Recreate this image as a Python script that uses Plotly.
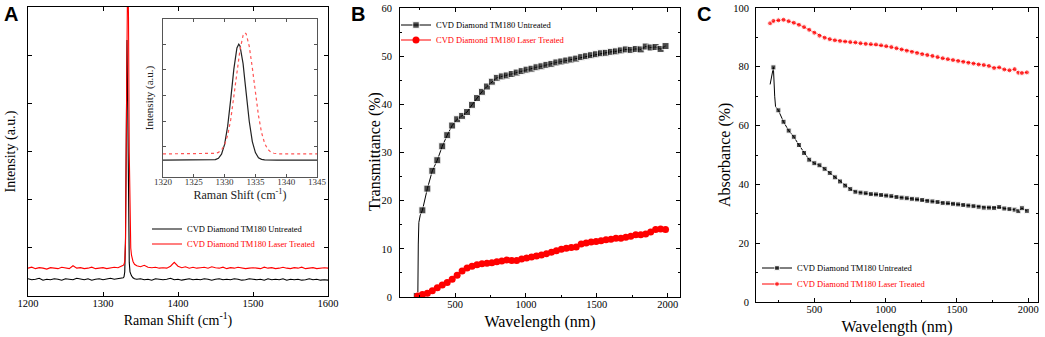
import plotly.graph_objects as go

W, H = 1045, 337
SERIF = "Liberation Serif, Times New Roman, serif"
SANS = "Liberation Sans, Arial, sans-serif"
RED = "#ff0000"
BLK = "#000000"

# ---------------- Panel A: Raman spectra ----------------
a_x_left = list(range(1200, 1321, 5))
a_x_peak = [1322, 1325, 1327, 1328, 1329, 1330, 1331, 1332, 1333, 1334, 1335, 1336, 1337, 1338, 1340, 1342]
a_x_right = list(range(1345, 1601, 5))
raman_x = a_x_left + a_x_peak + a_x_right

untreated_left = [0.36, 0.34, 0.35, 0.37, 0.33, 0.35, 0.34, 0.36, 0.35, 0.33, 0.36, 0.35, 0.34,
                  0.37, 0.35, 0.34, 0.36, 0.33, 0.35, 0.36, 0.34, 0.35, 0.37, 0.35, 0.36]
untreated_peak = [0.36, 0.37, 0.38, 0.40, 0.50, 1.20, 3.40, 5.33, 3.90, 1.60, 0.70, 0.50, 0.45, 0.42, 0.38, 0.36]
untreated_right = [0.35, 0.36, 0.34, 0.35, 0.33, 0.36, 0.35, 0.34, 0.35, 0.37, 0.34, 0.35, 0.33,
                   0.35, 0.36, 0.34, 0.35, 0.34, 0.36, 0.35, 0.33, 0.35, 0.36, 0.34, 0.35, 0.34,
                   0.36, 0.35, 0.33, 0.34, 0.36, 0.35, 0.34, 0.35, 0.33, 0.36, 0.34, 0.35, 0.34,
                   0.36, 0.33, 0.35, 0.34, 0.35, 0.33, 0.34, 0.36, 0.34, 0.35, 0.33, 0.34, 0.33]
raman_untreated = untreated_left + untreated_peak + untreated_right

treated_left = [0.58, 0.60, 0.57, 0.59, 0.58, 0.56, 0.59, 0.58, 0.57, 0.60, 0.58, 0.57, 0.63,
                0.58, 0.59, 0.57, 0.58, 0.60, 0.57, 0.58, 0.59, 0.57, 0.58, 0.60, 0.59]
treated_peak = [0.60, 0.62, 0.64, 0.66, 0.72, 1.10, 2.50, 5.20, 7.00, 5.80, 3.00, 1.50, 1.00, 0.85, 0.72, 0.66]
treated_right = [0.63, 0.61, 0.64, 0.60, 0.59, 0.60, 0.58, 0.59, 0.58, 0.62, 0.70, 0.62, 0.59,
                 0.61, 0.58, 0.60, 0.58, 0.59, 0.60, 0.58, 0.61, 0.59, 0.58, 0.60, 0.57, 0.59,
                 0.58, 0.60, 0.59, 0.57, 0.58, 0.59, 0.58, 0.57, 0.60, 0.58, 0.59, 0.57, 0.58,
                 0.60, 0.58, 0.57, 0.59, 0.58, 0.60, 0.57, 0.58, 0.59, 0.57, 0.58, 0.59, 0.58]
raman_treated = treated_left + treated_peak + treated_right

# inset (zoom on the diamond peak)
inset_x = [1320, 1327, 1328, 1328.5, 1329, 1329.5, 1330, 1330.5, 1331, 1331.5, 1332, 1332.3,
           1332.5, 1333, 1333.3, 1333.5, 1334, 1334.5, 1335, 1335.5, 1336, 1336.5, 1337,
           1337.5, 1338, 1338.5, 1339, 1345]
inset_untreated = [0.49, 0.49, 0.494, 0.51, 0.56, 0.72, 1.10, 1.81, 2.87, 4.03, 4.85, 5.00,
                   4.93, 4.24, 3.55, 3.11, 2.00, 1.21, 0.78, 0.58, 0.515, 0.50, 0.49,
                   0.49, 0.49, 0.49, 0.49, 0.49]
inset_treated = [0.73, 0.73, 0.736, 0.75, 0.79, 0.88, 1.08, 1.46, 2.07, 2.91, 3.88, 4.45,
                 4.78, 5.34, 5.44, 5.40, 4.92, 4.08, 3.10, 2.22, 1.56, 1.14, 0.91,
                 0.80, 0.755, 0.74, 0.73, 0.73]

# ---------------- Panel B: Transmittance ----------------
trans_untreated_x = [230, 238, 241, 245, 255, 270, 305, 340, 375, 410, 445, 480, 515, 550, 585,
                     620, 655, 690, 725, 760, 795, 830, 865, 900, 935, 970, 1005, 1040, 1075,
                     1110, 1145, 1180, 1215, 1250, 1285, 1320, 1355, 1390, 1425, 1460, 1495,
                     1530, 1565, 1600, 1635, 1670, 1705, 1740, 1775, 1810, 1845, 1880, 1915,
                     1950, 1985]
trans_untreated = [0.2, 1.0, 11.0, 15.5, 17.0, 18.0, 22.5, 26.2, 28.4, 31.3, 33.6, 35.6, 36.9,
                   37.6, 38.4, 39.9, 41.3, 42.6, 43.7, 44.7, 45.5, 45.8, 46.0, 46.3, 46.6,
                   46.9, 47.2, 47.4, 47.7, 47.9, 48.2, 48.4, 48.7, 48.9, 49.1, 49.3, 49.5,
                   49.8, 50.0, 50.2, 50.4, 50.6, 50.7, 50.9, 51.0, 51.2, 51.4, 51.3, 51.5,
                   51.4, 52.0, 51.8, 51.9, 51.5, 52.1]
trans_untreated_hidden = {238, 241, 245, 255}

trans_treated_x = [237, 270, 305, 340, 375, 410, 445, 480, 515, 550, 585, 620, 655, 690, 725,
                   760, 795, 830, 865, 900, 935, 970, 1005, 1040, 1075, 1110, 1145, 1180, 1215,
                   1250, 1285, 1320, 1355, 1390, 1425, 1460, 1495, 1530, 1565, 1600, 1635,
                   1670, 1705, 1740, 1775, 1810, 1845, 1880, 1915, 1950, 1985]
trans_treated = [0.2, 0.5, 0.8, 1.3, 1.9, 2.5, 3.0, 3.7, 4.5, 5.4, 6.0, 6.4, 6.7, 6.9, 7.0,
                 7.1, 7.3, 7.5, 7.7, 7.6, 7.6, 7.9, 8.1, 8.3, 8.5, 8.7, 9.0, 9.3, 9.6,
                 9.9, 10.1, 10.3, 10.4, 11.0, 11.2, 11.4, 11.5, 11.7, 11.9, 12.0, 12.2,
                 12.2, 12.4, 12.6, 12.9, 12.9, 13.1, 13.5, 14.0, 14.1, 14.0]

# ---------------- Panel C: Absorbance ----------------
abs_x = [190, 213, 222, 228, 248, 284, 320, 356, 392, 428, 464, 500, 536, 572, 608, 644, 680,
         716, 752, 788, 824, 860, 896, 932, 968, 1004, 1040, 1076, 1112, 1148, 1184, 1220,
         1256, 1292, 1328, 1364, 1400, 1436, 1472, 1508, 1544, 1580, 1616, 1652, 1688, 1724,
         1760, 1796, 1832, 1868, 1904, 1930, 1955, 1990]
abs_untreated = [74.0, 79.8, 70.0, 66.5, 65.2, 61.3, 58.3, 56.2, 53.4, 50.7, 48.4, 47.2, 46.5,
                 45.3, 43.9, 42.4, 41.0, 39.6, 38.4, 37.5, 37.2, 37.0, 36.7, 36.6, 36.4, 36.2,
                 36.0, 35.7, 35.5, 35.3, 35.1, 34.9, 34.7, 34.4, 34.2, 34.0, 33.7, 33.6, 33.4,
                 33.2, 33.0, 32.8, 32.6, 32.4, 32.1, 32.1, 32.0, 32.3, 31.8, 31.6, 31.4, 30.9,
                 31.9, 31.0]
abs_untreated_hidden = {190, 222, 228}
abs_treated = [94.8, 95.6, 95.7, 95.7, 95.8, 96.0, 95.5, 95.0, 94.3, 93.5, 92.6, 91.6, 90.6,
               89.9, 89.4, 89.0, 88.8, 88.6, 88.4, 88.3, 88.0, 87.8, 87.7, 87.6, 87.3, 87.0,
               86.7, 86.3, 85.9, 85.5, 85.1, 84.7, 84.3, 84.0, 83.7, 83.3, 82.9, 82.6, 82.3,
               82.0, 81.7, 81.4, 81.1, 80.8, 80.6, 80.3, 79.6, 79.8, 79.1, 78.8, 79.2, 78.0,
               77.9, 78.1]
abs_treated_hidden = {222, 228}

assert len(raman_x) == len(raman_untreated) == len(raman_treated)
assert len(inset_x) == len(inset_untreated) == len(inset_treated)
assert len(trans_untreated_x) == len(trans_untreated)
assert len(trans_treated_x) == len(trans_treated)
assert len(abs_x) == len(abs_untreated) == len(abs_treated)

LBL_U = "CVD Diamond TM180 Untreated"
LBL_T = "CVD Diamond TM180 Laser Treated"


def px(x):
    return x / W


def py(y):
    return 1 - y / H


fig = go.Figure()

# Panel A main
fig.add_trace(go.Scatter(x=raman_x, y=raman_untreated, mode="lines", name=LBL_U,
                         line=dict(color=BLK, width=1.1), xaxis="x", yaxis="y", legend="legend"))
fig.add_trace(go.Scatter(x=raman_x, y=raman_treated, mode="lines", name=LBL_T,
                         line=dict(color=RED, width=1.1), xaxis="x", yaxis="y", legend="legend2"))
# Inset
fig.add_trace(go.Scatter(x=inset_x, y=inset_untreated, mode="lines", showlegend=False,
                         line=dict(color="#222222", width=1.2), xaxis="x2", yaxis="y2"))
fig.add_trace(go.Scatter(x=inset_x, y=inset_treated, mode="lines", showlegend=False,
                         line=dict(color="#ff5555", width=1.2, dash="dot"), xaxis="x2", yaxis="y2"))

# Panel B
fig.add_trace(go.Scatter(x=trans_untreated_x, y=trans_untreated, mode="lines+markers", name=LBL_U,
                         line=dict(color=BLK, width=1),
                         marker=dict(symbol="square", color=BLK,
                                     size=[0 if v in trans_untreated_hidden else 7 for v in trans_untreated_x]),
                         xaxis="x3", yaxis="y3", legend="legend3"))
fig.add_trace(go.Scatter(x=trans_treated_x, y=trans_treated, mode="lines+markers", name=LBL_T,
                         line=dict(color=RED, width=1),
                         marker=dict(symbol="circle", color=RED, size=7),
                         xaxis="x3", yaxis="y3", legend="legend4"))

# Panel C
fig.add_trace(go.Scatter(x=abs_x, y=abs_untreated, mode="lines+markers", name=LBL_U,
                         line=dict(color=BLK, width=1),
                         marker=dict(symbol="square", color=BLK,
                                     size=[0 if v in abs_untreated_hidden else 5 for v in abs_x]),
                         xaxis="x4", yaxis="y4", legend="legend5"))
fig.add_trace(go.Scatter(x=abs_x, y=abs_treated, mode="lines+markers", name=LBL_T,
                         line=dict(color=RED, width=1),
                         marker=dict(symbol="circle", color=RED,
                                     size=[0 if v in abs_treated_hidden else 5 for v in abs_x]),
                         xaxis="x4", yaxis="y4", legend="legend6"))

tickfont = dict(family=SERIF, size=10.5, color=BLK)
titlefont = dict(family=SERIF, size=16, color=BLK)
titlefont_a = dict(family=SERIF, size=14, color=BLK)


def ax(**kw):
    base = dict(showline=True, linecolor=BLK, linewidth=1, mirror="ticks", ticks="inside",
                ticklen=4, tickcolor=BLK, tickwidth=1, showgrid=False, zeroline=False,
                automargin=False, tickfont=tickfont, title_font=titlefont)
    base.update(kw)
    return base


def leg(x, y, color):
    return dict(x=x, y=y, xanchor="left", yanchor="middle", bgcolor="rgba(0,0,0,0)",
                borderwidth=0, font=dict(family=SERIF, size=8.5, color=color),
                itemwidth=30, tracegroupgap=0)


def panel_letter(text, x):
    return dict(text="<b>%s</b>" % text, x=px(x), y=py(1), xref="paper", yref="paper",
                xanchor="left", yanchor="top", showarrow=False,
                font=dict(family=SANS, size=20, color=BLK))


def ytitle(text, x, y):
    return dict(text=text, x=px(x), y=py(y), xref="paper", yref="paper", textangle=-90,
                xanchor="center", yanchor="middle", showarrow=False, font=titlefont)


fig.update_layout(
    template="none",
    width=W, height=H, margin=dict(l=0, r=0, t=0, b=0, autoexpand=False),
    paper_bgcolor="white", plot_bgcolor="white",
    # Panel A main
    xaxis=ax(domain=[px(28), px(328)], range=[1200, 1600], tickvals=[1200, 1300, 1400, 1500, 1600],
             ticklabelstandoff=-3,
             title=dict(text="Raman Shift (cm<sup>-1</sup>)", standoff=7, font=titlefont_a), anchor="y"),
    yaxis=ax(domain=[py(296), py(7)], range=[0, 6.02], tickvals=[1, 2, 3, 4, 5], showticklabels=False,
             title=dict(text="Intensity (a.u.)", standoff=8, font=titlefont_a), anchor="x"),
    # Inset
    xaxis2=ax(domain=[px(163), px(317)], range=[1320, 1345], tickvals=[1320, 1325, 1330, 1335, 1340, 1345],
              linecolor="#555555", tickcolor="#555555", ticklen=3, ticklabelstandoff=-4,
              tickfont=dict(family=SERIF, size=9, color="#333333"),
              title=dict(text="Raman Shift (cm<sup>-1</sup>)", standoff=2,
                         font=dict(family=SERIF, size=12, color="#222222")), anchor="y2"),
    yaxis2=ax(domain=[py(177), py(19)], range=[-0.17, 5.98], tickvals=[1, 2, 3, 4, 5],
              showticklabels=False, linecolor="#555555", tickcolor="#555555", ticklen=3,
              title=dict(text="Intensity (a.u.)", standoff=6,
                         font=dict(family=SERIF, size=11, color="#222222")), anchor="x2"),
    # Panel B
    xaxis3=ax(domain=[px(400), px(680)], range=[112, 2087], tickvals=[500, 1000, 1500, 2000],
              minor=dict(ticks="inside", ticklen=2, dtick=250, tickcolor=BLK), ticklabelstandoff=-3,
              title=dict(text="Wavelength (nm)", standoff=7), anchor="y3"),
    yaxis3=ax(domain=[py(297), py(8)], range=[0, 60], tickvals=[0, 10, 20, 30, 40, 50, 60],
              minor=dict(ticks="inside", ticklen=2, dtick=5, tickcolor=BLK), ticklabelstandoff=5,
              anchor="x3"),
    # Panel C
    xaxis4=ax(domain=[px(756), px(1038)], range=[91, 2068], tickvals=[500, 1000, 1500, 2000],
              minor=dict(ticks="inside", ticklen=2, dtick=250, tickcolor=BLK), ticklabelstandoff=-3,
              title=dict(text="Wavelength (nm)", standoff=7), anchor="y4"),
    yaxis4=ax(domain=[py(302), py(8)], range=[0, 100], tickvals=[0, 20, 40, 60, 80, 100],
              minor=dict(ticks="inside", ticklen=2, dtick=10, tickcolor=BLK), ticklabelstandoff=4,
              anchor="x4"),
    legend=leg(px(147), py(229), BLK),
    legend2=leg(px(147), py(244), RED),
    legend3=leg(px(396), py(25), BLK),
    legend4=leg(px(396), py(40), RED),
    legend5=leg(px(757), py(268), BLK),
    legend6=leg(px(757), py(284), RED),
    annotations=[
        panel_letter("A", 2),
        panel_letter("B", 349),
        panel_letter("C", 695),
        ytitle("Transmittance (%)", 375, 152),
        ytitle("Absorbance (%)", 725, 155),
    ],
)

fig.write_html("out.html", config={"displayModeBar": False},
               post_script="document.body.style.margin='0';document.body.style.overflow='hidden';")
